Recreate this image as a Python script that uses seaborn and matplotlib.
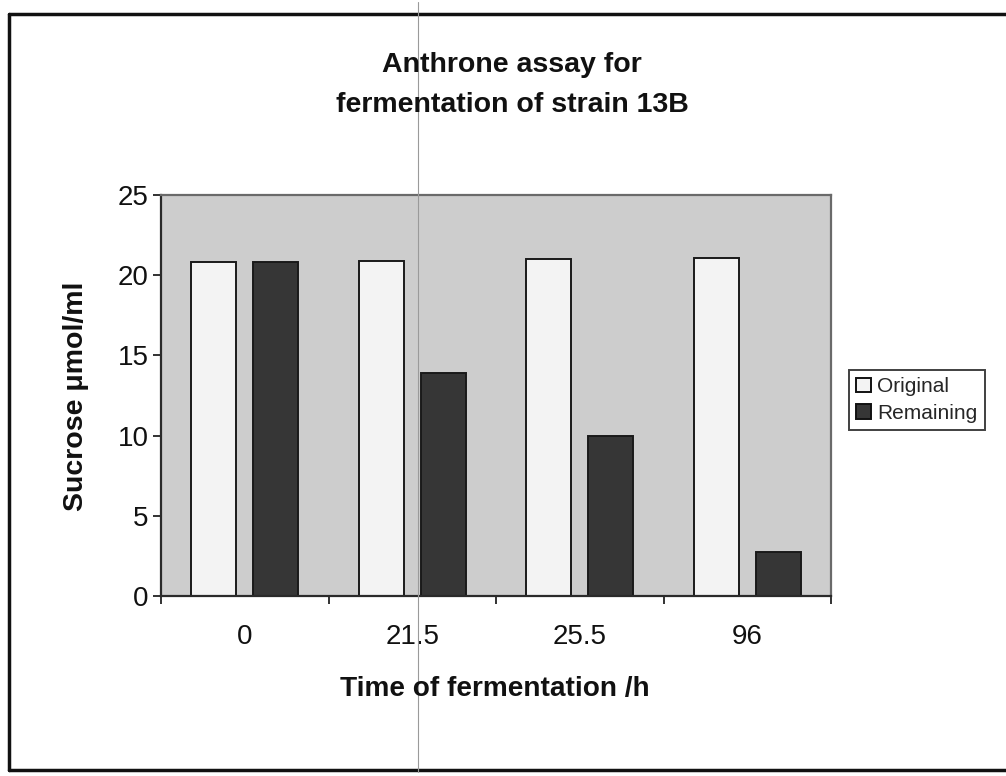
import matplotlib
matplotlib.use("Agg")
import matplotlib.pyplot as plt
from matplotlib.lines import Line2D
from matplotlib.patches import Patch
import numpy as np
import pandas as pd
import seaborn as sns

# Sampling times (h) and sucrose concentrations (umol/ml)
hours = ["0", "21.5", "25.5", "96"]
original = [20.85, 20.9, 21.0, 21.1]
remaining = [20.8, 13.9, 10.0, 2.75]
series = ["Original", "Remaining"]

df = pd.DataFrame({
    "time": hours * 2,
    "sucrose": original + remaining,
    "series": [series[0]] * len(hours) + [series[1]] * len(hours),
})

sns.set_style("white")
plt.rcParams["font.family"] = ["Liberation Sans", "DejaVu Sans"]

W, H = 1006, 776
fig = plt.figure(figsize=(W / 100, H / 100), dpi=100)
ax = fig.add_axes([161 / W, 1 - 596 / H, (831 - 161) / W, (596 - 195) / H])

colors = {"Original": "#f3f3f3", "Remaining": "#363636"}
sns.barplot(data=df, x="time", y="sucrose", hue="series", order=hours,
            hue_order=series, palette=colors, width=0.74, gap=0.27,
            edgecolor="#1a1a1a", linewidth=1.4, saturation=1, ax=ax,
            legend=False)

ax.set_facecolor("#cdcdcd")
ax.set_xlim(-0.5, len(hours) - 0.5)
ax.set_ylim(0, 25)
ax.set_yticks(np.arange(0, 26, 5))
ax.set_xlabel("")
ax.set_ylabel("")

# category boundary ticks on the x axis, labels at category centres
ax.set_xticks(np.arange(-0.5, len(hours), 1.0), minor=True)
ax.tick_params(axis="x", which="minor", length=6, width=1.3, color="#222222",
               direction="out", bottom=True)
ax.tick_params(axis="x", which="major", length=0, pad=20, labelsize=20,
               labelcolor="#111111")
ax.tick_params(axis="y", which="major", length=6, width=1.3, color="#222222",
               direction="out", left=True, pad=3, labelsize=20,
               labelcolor="#111111")

for side in ["left", "bottom"]:
    ax.spines[side].set_color("#2a2a2a")
    ax.spines[side].set_linewidth(1.6)
for side in ["top", "right"]:
    ax.spines[side].set_color("#6a6a6a")
    ax.spines[side].set_linewidth(1.6)

# titles and axis labels
fig.text(512 / W, 1 - 65 / H, "Anthrone assay for", ha="center", va="center",
         fontsize=20.5, fontweight="bold", color="#111111")
fig.text(512 / W, 1 - 105 / H, "fermentation of strain 13B", ha="center",
         va="center", fontsize=20.5, fontweight="bold", color="#111111")
fig.text(495 / W, 1 - 689 / H, "Time of fermentation /h", ha="center",
         va="center", fontsize=20.2, fontweight="bold", color="#111111")
fig.text(76 / W, 1 - 396 / H, "Sucrose \u03bcmol/ml", ha="center", va="center",
         rotation=90, fontsize=20.5, fontweight="bold", color="#111111")

# legend
handles = [Patch(facecolor=colors[s], edgecolor="#111111", linewidth=1.4,
                 label=s) for s in series]
leg = fig.legend(handles=handles, loc="upper left",
                 bbox_to_anchor=(849 / W, 1 - 370 / H), frameon=True,
                 fancybox=False, fontsize=15, handlelength=0.7,
                 handleheight=0.7, handletextpad=0.3, borderpad=0.35,
                 labelspacing=0.35, borderaxespad=0)
leg.get_frame().set_edgecolor("#111111")
leg.get_frame().set_linewidth(1.4)

# outer chart frame
frame_kw = dict(transform=fig.transFigure, color="#111111", linewidth=2.5)
fig.add_artist(Line2D([9 / W, 1.0], [1 - 14 / H, 1 - 14 / H], **frame_kw))
fig.add_artist(Line2D([9 / W, 9 / W], [1 - 14 / H, 1 - 770 / H], **frame_kw))
fig.add_artist(Line2D([9 / W, 1.0], [1 - 770 / H, 1 - 770 / H], **frame_kw))
# faint fold line running down the page
fig.add_artist(Line2D([418 / W, 418 / W], [1 - 2 / H, 1 - 772 / H],
                      transform=fig.transFigure, color="#9a9a9a",
                      linewidth=0.8))

fig.savefig("out.png", dpi=100)
